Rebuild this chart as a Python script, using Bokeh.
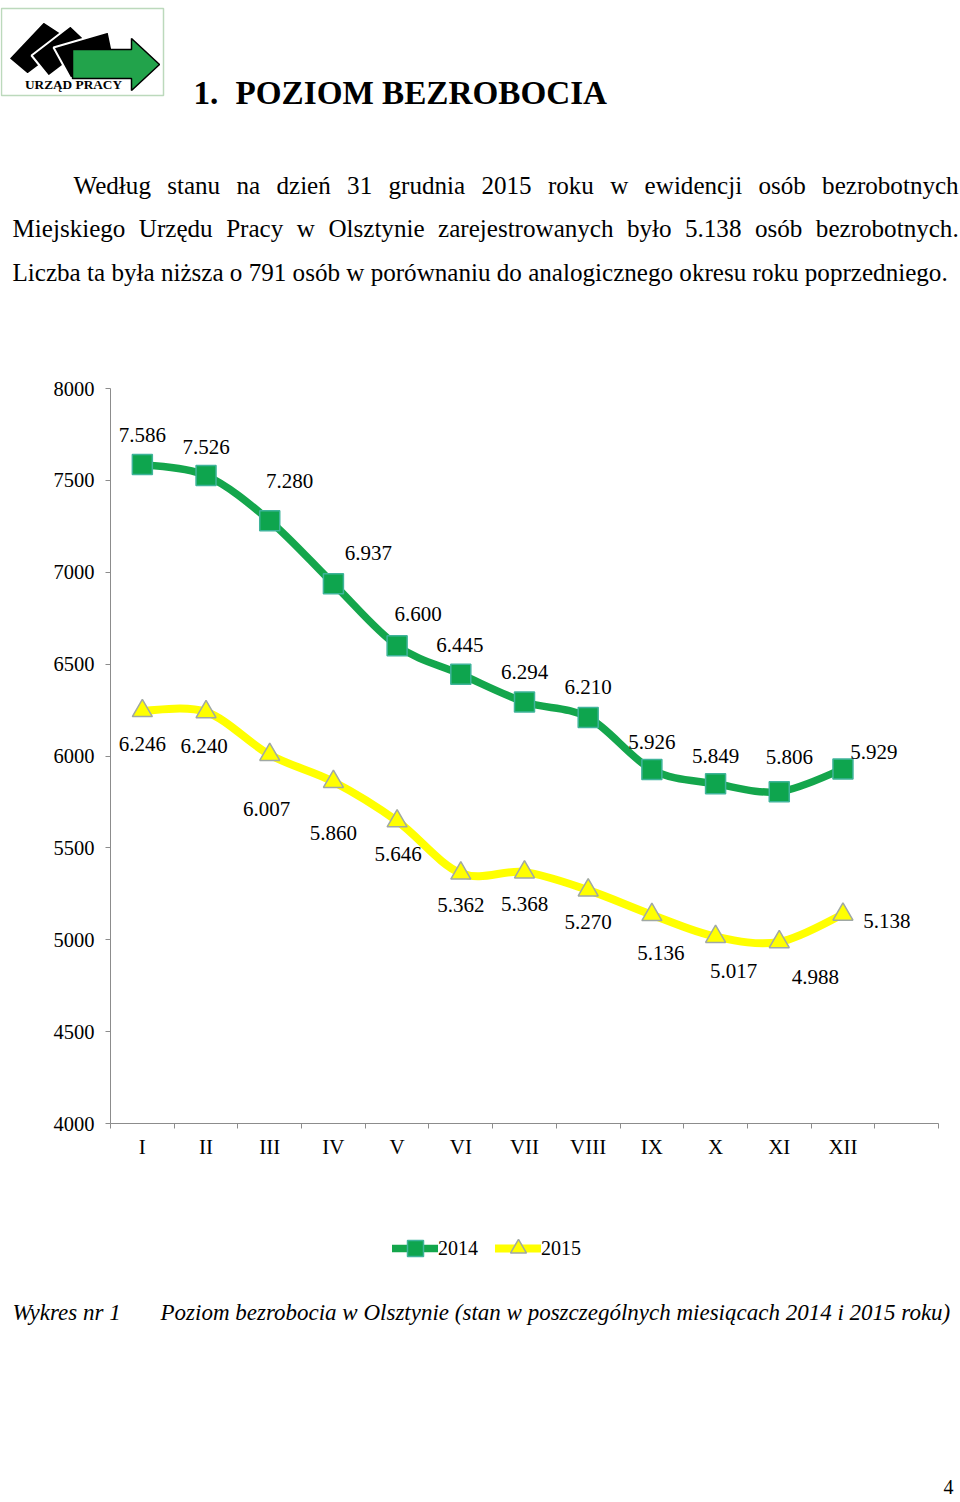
import os
import subprocess
import numpy as np
from bokeh.plotting import figure
from bokeh.models import Range1d, FixedTicker, Legend, LegendItem, ColumnDataSource
from bokeh.embed import file_html
from bokeh.resources import INLINE

# ---------------- data ----------------
months = ["I", "II", "III", "IV", "V", "VI", "VII", "VIII", "IX", "X", "XI", "XII"]
series_2014 = [7586, 7526, 7280, 6937, 6600, 6445, 6294, 6210, 5926, 5849, 5806, 5929]
series_2015 = [6246, 6240, 6007, 5860, 5646, 5362, 5368, 5270, 5136, 5017, 4988, 5138]
y_ticks = [4000, 4500, 5000, 5500, 6000, 6500, 7000, 7500, 8000]
series_names = ["2014", "2015"]

title_num = "1."
title_text = "POZIOM BEZROBOCIA"
para_lines = [
    "Według stanu na dzień 31 grudnia 2015 roku w ewidencji osób bezrobotnych",
    "Miejskiego Urzędu Pracy w Olsztynie zarejestrowanych było 5.138 osób bezrobotnych.",
    "Liczba ta była niższa o 791 osób w porównaniu do analogicznego okresu roku poprzedniego.",
]
caption_left = "Wykres nr 1"
caption_right = "Poziom bezrobocia w Olsztynie (stan w poszczególnych miesiącach 2014 i 2015 roku)"
page_number = "4"
logo_text = "URZĄD PRACY"

# data-label placement (screen px offsets, layout only)
off14_x = [0, 0, 20, 35, 21, -1, 0, 0, 0, 0, 10, 31]
off14_y = [-30, -29, -40, -31, -32, -29, -30, -30, -28, -28, -35, -17]
off15_x = [0, -2, -3, 0, 1, 0, 0, 0, 9, 18, 36, 44]
off15_y = [33, 34, 54, 51, 33, 32, 32, 32, 38, 34, 35, 7]

# ---------------- page geometry (px) ----------------
W, H = 960, 1500
FX0, FX1 = 110, 938      # chart plot area, left / right
FY0, FY1 = 388, 1123     # chart plot area, top / bottom
SERIF = "Liberation Serif"

n_slots = len(months) + 1
kx = n_slots / (FX1 - FX0)
ky = (y_ticks[-1] - y_ticks[0]) / (FY1 - FY0)
x_range = Range1d(0 - FX0 * kx, n_slots + (W - FX1) * kx)
y_range = Range1d(y_ticks[0] - (H - FY1) * ky, y_ticks[-1] + FY0 * ky)

# ---------------- text measuring (for justified lines) ----------------
try:
    from PIL import ImageFont
except Exception:
    ImageFont = None


def find_font(family, style):
    try:
        out = subprocess.run(["fc-match", "-f", "%{file}", f"{family}:style={style}"],
                             capture_output=True, text=True, timeout=5).stdout.strip()
        if out and os.path.exists(out):
            return out
    except Exception:
        pass
    return None


def measurer(family, style, fallback=0.47):
    path = find_font(family, style)
    if ImageFont is not None and path:
        try:
            f = ImageFont.truetype(path, 100)
            return lambda s, size: f.getlength(s) * size / 100.0
        except Exception:
            pass
    return lambda s, size: len(s) * fallback * size


serif = measurer("Liberation Serif", "Regular")
serif_b = measurer("Liberation Serif", "Bold", 0.6)
serif_i = measurer("Liberation Serif", "Italic", 0.42)
sans_b = measurer("Liberation Sans", "Bold", 0.7)

# ---------------- figure ----------------
p = figure(width=W, height=H, x_range=x_range, y_range=y_range,
           output_backend="svg", toolbar_location=None,
           min_border=0, min_border_left=0, min_border_right=0,
           min_border_top=0, min_border_bottom=0)
p.extra_x_ranges = {"page_x": Range1d(0, W)}
p.extra_y_ranges = {"page_y": Range1d(H, 0)}
p.outline_line_color = None
p.grid.visible = False
p.background_fill_color = "white"
p.border_fill_color = "white"

AX = "#8c8c8c"
xpos = np.arange(len(months)) + 0.5

xa = p.xaxis[0]
xa.fixed_location = y_ticks[0]
xa.bounds = (0, n_slots)
xa.ticker = FixedTicker(ticks=list(xpos), minor_ticks=list(range(n_slots + 1)))
xa.major_label_overrides = {float(v): m for v, m in zip(xpos, months)}
xa.major_tick_out = 0
xa.major_tick_in = 0
xa.minor_tick_out = 5
xa.minor_tick_in = 0
xa.minor_tick_line_color = AX
xa.axis_line_color = AX
xa.major_label_standoff = 6
xa.major_label_text_font = SERIF
xa.major_label_text_font_size = "21px"
xa.major_label_text_color = "black"

ya = p.yaxis[0]
ya.fixed_location = 0
ya.bounds = (y_ticks[0], y_ticks[-1])
ya.ticker = FixedTicker(ticks=y_ticks, minor_ticks=[])
ya.major_tick_out = 5
ya.major_tick_in = 0
ya.major_tick_line_color = AX
ya.minor_tick_line_color = None
ya.axis_line_color = AX
ya.major_label_standoff = 11
ya.major_label_text_font = SERIF
ya.major_label_text_font_size = "20.5px"
ya.major_label_text_color = "black"


def smooth_segments(xs, ys):
    xs = np.asarray(xs, float)
    ys = np.asarray(ys, float)
    n = len(xs)
    idx = lambda i: min(max(i, 0), n - 1)
    d = dict(x0=[], y0=[], x1=[], y1=[], cx0=[], cy0=[], cx1=[], cy1=[])
    for i in range(n - 1):
        a, b, c, e = idx(i - 1), i, i + 1, idx(i + 2)
        d["x0"].append(xs[b]); d["y0"].append(ys[b])
        d["x1"].append(xs[c]); d["y1"].append(ys[c])
        d["cx0"].append(xs[b] + (xs[c] - xs[a]) / 6.0)
        d["cy0"].append(ys[b] + (ys[c] - ys[a]) / 6.0)
        d["cx1"].append(xs[c] - (xs[e] - xs[b]) / 6.0)
        d["cy1"].append(ys[c] - (ys[e] - ys[b]) / 6.0)
    return ColumnDataSource(d)


GREEN = "#14a64c"
YELLOW = "#ffff00"
SQ_FILL, SQ_LINE = "#0ea54e", "#3fb49a"
TR_LINE = "#a0a8a4"
G_W, Y_W = 7.5, 8

p.bezier(x0="x0", y0="y0", x1="x1", y1="y1", cx0="cx0", cy0="cy0", cx1="cx1", cy1="cy1",
         source=smooth_segments(xpos, series_2014), line_color=GREEN, line_width=G_W,
         line_cap="round")
p.bezier(x0="x0", y0="y0", x1="x1", y1="y1", cx0="cx0", cy0="cy0", cx1="cx1", cy1="cy1",
         source=smooth_segments(xpos, series_2015), line_color=YELLOW, line_width=Y_W,
         line_cap="round")

sq = p.scatter(xpos, series_2014, marker="square", size=20, fill_color=SQ_FILL,
               line_color=SQ_LINE, line_width=1.5)
tr = p.scatter(xpos, series_2015, marker="triangle", size=20, fill_color=YELLOW,
               line_color=TR_LINE, line_width=1.5)


def fmt(v):
    return f"{v:,}".replace(",", ".")


for vals, ox, oy in ((series_2014, off14_x, off14_y), (series_2015, off15_x, off15_y)):
    src = ColumnDataSource(dict(x=xpos, y=vals, t=[fmt(v) for v in vals], ox=ox, oy=oy))
    p.text(x="x", y="y", text="t", x_offset="ox", y_offset="oy", source=src,
           text_align="center", text_baseline="middle", text_font=SERIF,
           text_font_size="21px", text_color="black")

# legend: line samples come from copies of the series placed on the page range,
# where their values lie outside the visible area
l14 = p.line(xpos, series_2014, line_color=GREEN, line_width=G_W, line_cap="round",
             x_range_name="page_x", y_range_name="page_y")
l15 = p.line(xpos, series_2015, line_color=YELLOW, line_width=Y_W, line_cap="round",
             x_range_name="page_x", y_range_name="page_y")
LEG_H = 40
legend = Legend(items=[LegendItem(label=series_names[0], renderers=[l14, sq]),
                       LegendItem(label=series_names[1], renderers=[l15, tr])],
                orientation="horizontal", location=(392, H - 1248 - LEG_H / 2),
                glyph_width=46, glyph_height=LEG_H, label_standoff=0, spacing=17,
                padding=0, margin=0, border_line_color=None, background_fill_alpha=0,
                label_text_font=SERIF, label_text_font_size="20px", label_text_color="black")
p.add_layout(legend, "center")


# ---------------- page texts & logo (page-pixel ranges) ----------------
PG = dict(x_range_name="page_x", y_range_name="page_y")


def put_text(texts, xs, ys, size, style="normal", font=SERIF, align="left",
             baseline="alphabetic"):
    p.text(x=xs, y=ys, text=texts, text_font=font, text_font_size=f"{size:.1f}px",
           text_font_style=style, text_align=align, text_baseline=baseline,
           text_color="black", **PG)


p.patch([1, 163, 163, 1], [8, 8, 95, 95], fill_color=None, line_color="#bcd9bc",
        line_width=1.5, **PG)
cards = [
    ([8, 43, 72, 27], [58, 21, 40, 74]),
    ([31, 70, 90, 48], [55, 25, 44, 76]),
    ([53, 108, 114, 70], [47, 31, 60, 78]),
]
for cxs, cys in cards:
    p.patch(cxs, cys, fill_color="black", line_color="white", line_width=2, **PG)
p.patch([72, 131, 131, 159, 131, 131, 72], [49, 49, 38, 64, 90, 78, 78],
        fill_color="#22a34b", line_color="black", line_width=1.5, **PG)
put_text([logo_text], [73], [83.5], 97 / sans_b(logo_text, 1.0), style="bold",
         font="Liberation Sans", align="center", baseline="middle")

t_size = 372 / serif_b(title_text, 1.0)
put_text([title_num, title_text], [193, 235], [92, 92], t_size, style="bold")

para_size = 934 / serif(para_lines[2], 1.0)
para_base = [185, 228, 272]
para_left = [73, 12, 12]
RIGHT = 958
wx, wy, wt = [], [], []
for li in range(2):
    words = para_lines[li].split()
    widths = [serif(w, para_size) for w in words]
    gap = (RIGHT - para_left[li] - sum(widths)) / (len(words) - 1)
    x = para_left[li]
    for w, wd in zip(words, widths):
        wx.append(x); wy.append(para_base[li]); wt.append(w)
        x += wd + gap
wx.append(para_left[2]); wy.append(para_base[2]); wt.append(para_lines[2])
put_text(wt, wx, wy, para_size)

c_size = 790 / serif_i(caption_right, 1.0)
put_text([caption_left, caption_right], [12, 160], [1312, 1312], c_size, style="italic")
put_text([page_number], [953], [1486], 20, font="Liberation Sans", align="right")

open("out.html", "w").write(file_html(p, INLINE))
